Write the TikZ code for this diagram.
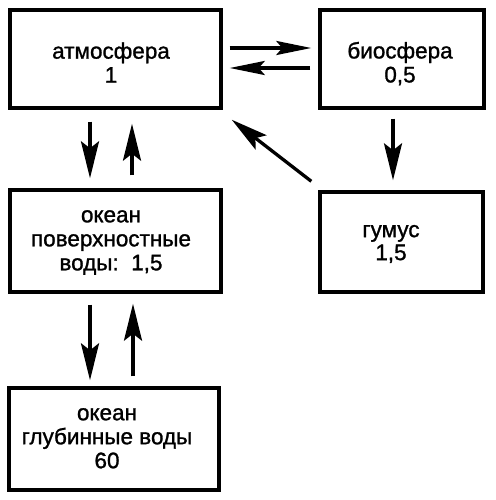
\documentclass[tikz,border=0pt]{standalone}
\usepackage{fontspec}
\setmainfont{Liberation Sans}
\usetikzlibrary{arrows.meta}
\begin{document}
\begin{tikzpicture}[x=1pt,y=-1pt,
  box/.style={draw=black,line width=3.4pt,rectangle,inner sep=0pt},
  txt/.style={align=center,inner sep=0pt,font=\fontsize{22.5}{24}\selectfont\addfontfeature{FakeBold=1.2}},
  arr/.style={line width=3.3pt,-{Stealth[length=37pt,width=18pt,inset=7pt]}},
  harr/.style={line width=3.3pt,-{Stealth[length=35pt,width=14pt,inset=6pt]}}]
\useasboundingbox (0,0) rectangle (495,500);
% boxes
\node[box,minimum width=211pt,minimum height=98pt] (atm) at (115.5,59) {};
\node[box,minimum width=164pt,minimum height=98pt] (bio) at (402,59) {};
\node[box,minimum width=211pt,minimum height=102pt] (ocs) at (115.5,241) {};
\node[box,minimum width=163pt,minimum height=100pt] (hum) at (401.5,242) {};
\node[box,minimum width=210pt,minimum height=102pt] (ocd) at (114,439) {};
% texts
\node[txt] (atmT) at (111,62.5) {атмосфера\\1};
\node[txt] (bioT) at (400,63.6) {биосфера\\0,5};
\node[txt] (ocsT) at (111,242.5) {океан\\поверхностные\\воды:\ \ 1,5};
\node[txt,font=\fontsize{22.5}{23}\selectfont\addfontfeature{FakeBold=1.2}] (humT) at (391,244) {гумус\\1,5};
\node[txt] (ocdT) at (107,438.3) {океан\\глубинные воды\\60};
% arrows
\draw[harr] ([xshift=7pt,yshift=11pt]atm.east) -- ([xshift=-7pt,yshift=11pt]bio.west);
\draw[harr] ([xshift=-8pt,yshift=-9pt]bio.west) -- ([xshift=7pt,yshift=-9pt]atm.east);
\draw[arr] ([xshift=-25.5pt,yshift=-12pt]atm.south) -- ([xshift=-25.5pt,yshift=10pt]ocs.north);
\draw[arr] ([xshift=16.5pt,yshift=13pt]ocs.north) -- ([xshift=16.5pt,yshift=-14pt]atm.south);
\draw[arr] ([xshift=-9pt,yshift=-9pt]bio.south) -- ([xshift=-8.5pt,yshift=10pt]hum.north);
\draw[arr] ([xshift=-7pt,yshift=9pt]hum.north west) -- ([xshift=9pt,yshift=-10pt]atm.south east);
\draw[arr] ([xshift=-25.5pt,yshift=-11pt]ocs.south) -- ([xshift=-24pt,yshift=6pt]ocd.north);
\draw[arr] ([xshift=19pt,yshift=10pt]ocd.north) -- ([xshift=17.5pt,yshift=-10pt]ocs.south);
\end{tikzpicture}
\end{document}
